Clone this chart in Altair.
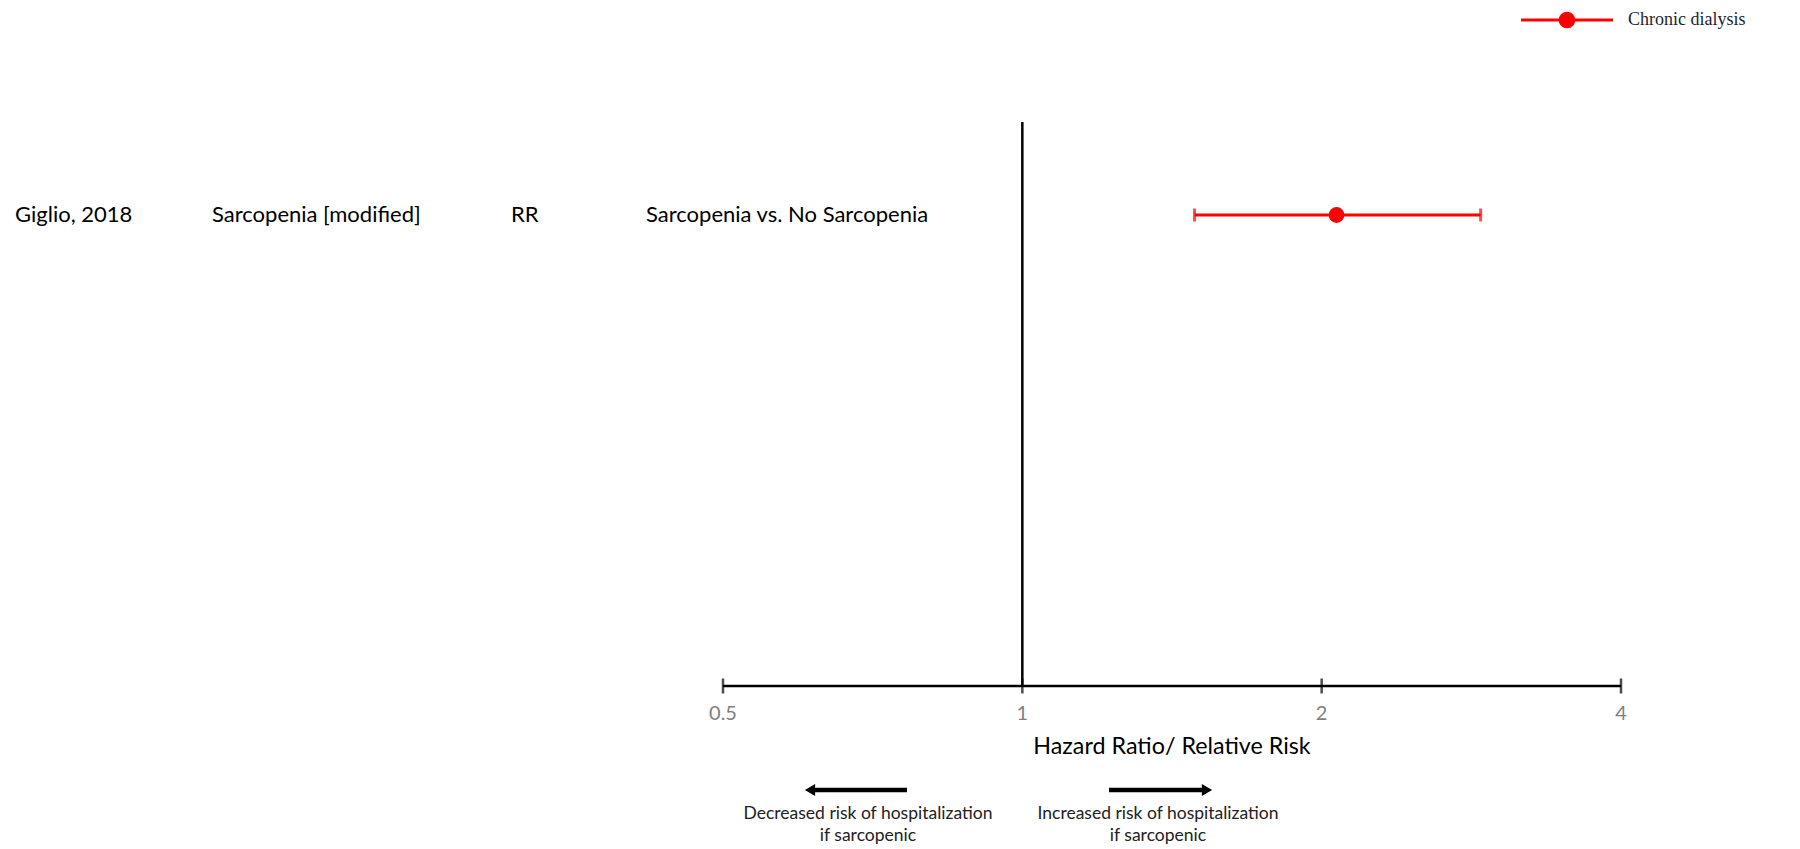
import altair as alt
import pandas as pd

# ---- data ----
studies = ["Giglio, 2018"]
measures = ["Sarcopenia [modified]"]
effect_types = ["RR"]
comparisons = ["Sarcopenia vs. No Sarcopenia"]
groups = ["Chronic dialysis"]
estimates = [2.07]
lower_ci = [1.49]
upper_ci = [2.89]
tick_values = [0.5, 1, 2, 4]
tick_labels = ["0.5", "1", "2", "4"]
reference_value = [1]
axis_title = ["Hazard Ratio/ Relative Risk"]
arrow_labels = ["Decreased risk of hospitalization\nif sarcopenic",
                "Increased risk of hospitalization\nif sarcopenic"]

rows = pd.DataFrame({
    "study": studies, "measure": measures, "etype": effect_types,
    "comparison": comparisons, "group": groups,
    "est": estimates, "lo": lower_ci, "hi": upper_ci,
})
ticks = pd.DataFrame({"v": tick_values, "lab": tick_labels})
ref = pd.DataFrame({"v": reference_value})
axis_df = pd.DataFrame({"lo": [min(tick_values)], "hi": [max(tick_values)],
                        "title": axis_title})

RED = "#ff0000"
ROW_Y = 215
AXIS_Y = 686
xs = alt.Scale(type="log", base=2, domain=[0.5, 4], range=[723, 1621])

legend_path = ("M-1,-0.033H1V0.033H-1Z"
               "M0.18,0A0.18,0.18,0,1,1,-0.18,0A0.18,0.18,0,1,1,0.18,0Z")

legend_def = alt.Legend(title=None, orient="none", legendX=1521, legendY=-26,
                        symbolType=legend_path, symbolSize=8464,
                        symbolStrokeWidth=0, symbolFillColor=RED,
                        labelFont="Liberation Serif", labelFontSize=18,
                        labelColor="#1f1f2e", labelOffset=15, padding=0)

# reference vertical line at 1
ref_line = alt.Chart(ref).mark_rule(color="black", strokeWidth=2.5).encode(
    x=alt.X("v:Q", scale=xs, axis=None), y=alt.value(122), y2=alt.value(AXIS_Y))

# x axis drawn from the tick data
axis_line = alt.Chart(axis_df).mark_rule(color="black", strokeWidth=2.5).encode(
    x=alt.X("lo:Q", scale=xs, axis=None), x2="hi:Q", y=alt.value(AXIS_Y))
axis_ticks = alt.Chart(ticks).mark_tick(color="black", thickness=2.5, size=15).encode(
    x=alt.X("v:Q", scale=xs, axis=None), y=alt.value(AXIS_Y))
axis_labels = alt.Chart(ticks).mark_text(
    font="Lato", fontSize=20, color="#7f7f7f", baseline="middle", align="center").encode(
    x=alt.X("v:Q", scale=xs, axis=None), y=alt.value(714), text="lab:N")
axis_title_mark = alt.Chart(axis_df).mark_text(
    font="Lato", fontSize=23.3, color="black", baseline="middle", align="center").encode(
    x=alt.value(1172), y=alt.value(747), text="title:N")

base = alt.Chart(rows)
ci = base.mark_rule(color=RED, strokeWidth=3).encode(
    x=alt.X("lo:Q", scale=xs, axis=None), x2="hi:Q", y=alt.value(ROW_Y))
cap_lo = base.mark_tick(color=RED, thickness=3, size=13).encode(
    x=alt.X("lo:Q", scale=xs, axis=None), y=alt.value(ROW_Y))
cap_hi = base.mark_tick(color=RED, thickness=3, size=13).encode(
    x=alt.X("hi:Q", scale=xs, axis=None), y=alt.value(ROW_Y))
pt = base.mark_point(filled=True, size=250, opacity=1).encode(
    x=alt.X("est:Q", scale=xs, axis=None),
    y=alt.value(ROW_Y),
    color=alt.Color("group:N", scale=alt.Scale(range=[RED]), legend=legend_def))

def col_text(field, xpos):
    return base.mark_text(align="left", baseline="middle", font="Lato",
                          fontSize=22, color="black").encode(
        x=alt.value(xpos), y=alt.value(ROW_Y), text=f"{field}:N")

texts = [col_text("study", 15), col_text("measure", 212),
         col_text("etype", 511), col_text("comparison", 646)]

# direction arrows
shaft_l = alt.Chart(ref).mark_rule(color="black", strokeWidth=4.5).encode(
    x=alt.value(907), x2=alt.value(815), y=alt.value(790))
head_l = alt.Chart(ref).mark_point(shape="triangle-left", filled=True, size=140,
                                    color="black", opacity=1).encode(
    x=alt.value(810), y=alt.value(790))
shaft_r = alt.Chart(ref).mark_rule(color="black", strokeWidth=4.5).encode(
    x=alt.value(1109), x2=alt.value(1203), y=alt.value(790))
head_r = alt.Chart(ref).mark_point(shape="triangle-right", filled=True, size=140,
                                    color="black", opacity=1).encode(
    x=alt.value(1207), y=alt.value(790))

arr_df = pd.DataFrame({"label": arrow_labels, "side": ["l", "r"]})
arrow_txt_l = alt.Chart(arr_df[arr_df.side == "l"]).mark_text(
    align="center", baseline="middle", font="Lato", fontSize=17.5, color="#222",
    lineBreak="\n", lineHeight=22).encode(
    x=alt.value(868), y=alt.value(814), text="label:N")
arrow_txt_r = alt.Chart(arr_df[arr_df.side == "r"]).mark_text(
    align="center", baseline="middle", font="Lato", fontSize=17.5, color="#222",
    lineBreak="\n", lineHeight=22).encode(
    x=alt.value(1158), y=alt.value(814), text="label:N")

chart = alt.layer(
    ref_line, axis_line, axis_ticks, axis_labels, axis_title_mark,
    ci, cap_lo, cap_hi, pt, *texts,
    shaft_l, head_l, shaft_r, head_r, arrow_txt_l, arrow_txt_r,
).properties(
    width=1800, height=AXIS_Y,
    background="white",
    autosize=alt.AutoSizeParams(type="none"),
    padding={"left": 0, "top": 0, "right": 0, "bottom": 849 - AXIS_Y},
).configure_view(strokeWidth=0, stroke="transparent")

chart.save("out.html", embed_options={"renderer": "svg", "actions": False})
